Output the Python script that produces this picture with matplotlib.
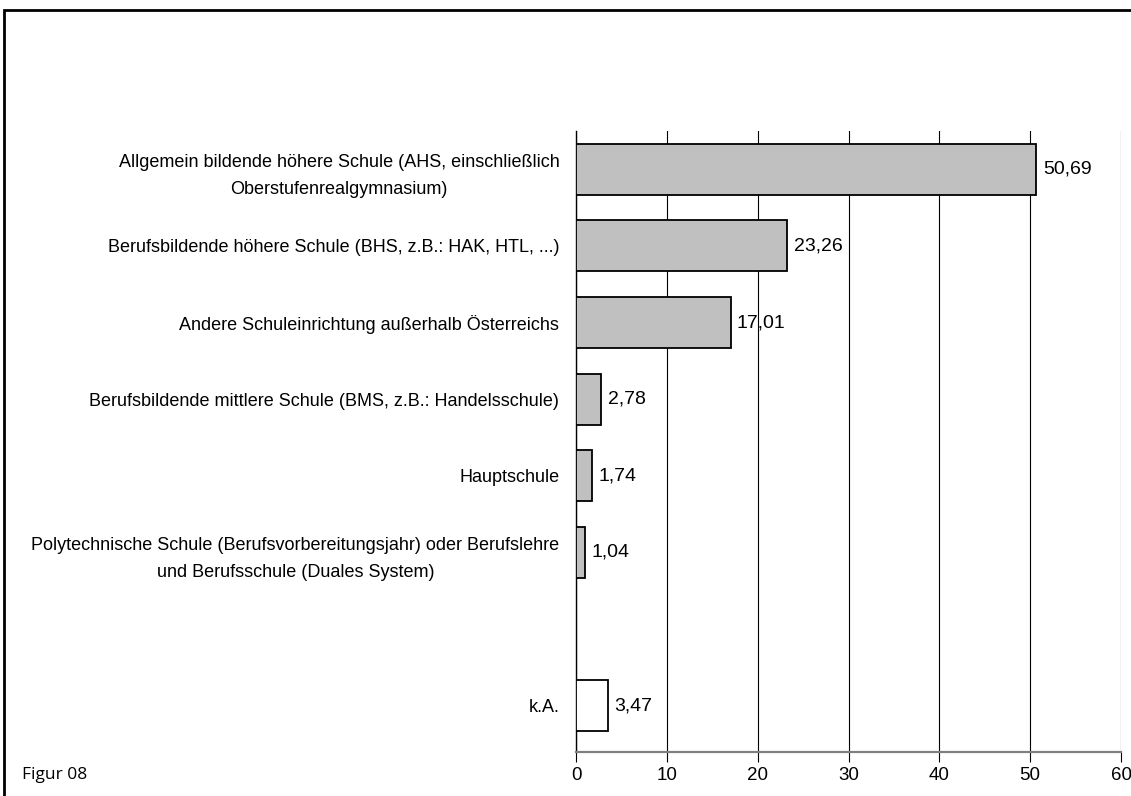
import matplotlib.pyplot as plt
import matplotlib.patches as patches
import numpy as np

# data, top to bottom (empty slot before "k.A.")
categories = [
    'Allgemein bildende höhere Schule (AHS, einschließlich\nOberstufenrealgymnasium)',
    'Berufsbildende höhere Schule (BHS, z.B.: HAK, HTL, ...)',
    'Andere Schuleinrichtung außerhalb Österreichs',
    'Berufsbildende mittlere Schule (BMS, z.B.: Handelsschule)',
    'Hauptschule',
    'Polytechnische Schule (Berufsvorbereitungsjahr) oder Berufslehre\nund Berufsschule (Duales System)',
    '',
    'k.A.',
]
values = [50.69, 23.26, 17.01, 2.78, 1.74, 1.04, np.nan, 3.47]
bar_colors = ['#c0c0c0'] * 6 + ['white', 'white']
xticks = [0, 10, 20, 30, 40, 50, 60]

plt.rcParams['font.family'] = ['Liberation Sans', 'DejaVu Sans']

fig = plt.figure(figsize=(11.31, 7.96), dpi=100)
ax = fig.add_axes([576 / 1131, 1 - 751.6 / 796, (1121 - 576) / 1131, (751.6 - 131) / 796])

y = np.arange(len(categories))
ax.barh(y, values, height=0.667, color=bar_colors, edgecolor='black', linewidth=1.3, zorder=3)

for yi, v in zip(y, values):
    if np.isnan(v):
        continue
    ax.text(v + 0.7, yi, f'{v:.2f}'.replace('.', ','), va='center', ha='left',
            fontsize=14, zorder=4)

ax.set_xlim(0, 60)
ax.set_ylim(7.6, -0.5)
ax.set_xticks(xticks)
ax.set_xticklabels([str(t) for t in xticks], fontsize=13.5)
ax.set_yticks(y)
ax.set_yticklabels(categories, fontsize=13, multialignment='center', linespacing=1.75)
ax.tick_params(axis='y', length=0, pad=12)
ax.tick_params(axis='x', length=7, width=0.8, direction='out', pad=4, color='black')

ax.grid(axis='x', color='black', linewidth=0.8, zorder=1)
for s in ['top', 'right']:
    ax.spines[s].set_visible(False)
ax.spines['left'].set_color('black')
ax.spines['left'].set_linewidth(1.0)
ax.spines['bottom'].set_color('#808080')
ax.spines['bottom'].set_linewidth(1.6)

# outer frame (runs off right and bottom edges)
frame = patches.Rectangle((4 / 1131, -0.1), 1.2, 1.1 - 10 / 796, transform=fig.transFigure,
                          fill=False, edgecolor='black', linewidth=2, clip_on=False)
fig.patches.append(frame)

fig.text(22 / 1131, 1 - 775 / 796, 'Figur 08', fontsize=12.5, va='center', ha='left',
         family=['Open Sans', 'DejaVu Sans'])

fig.savefig('out.png', dpi=100)
